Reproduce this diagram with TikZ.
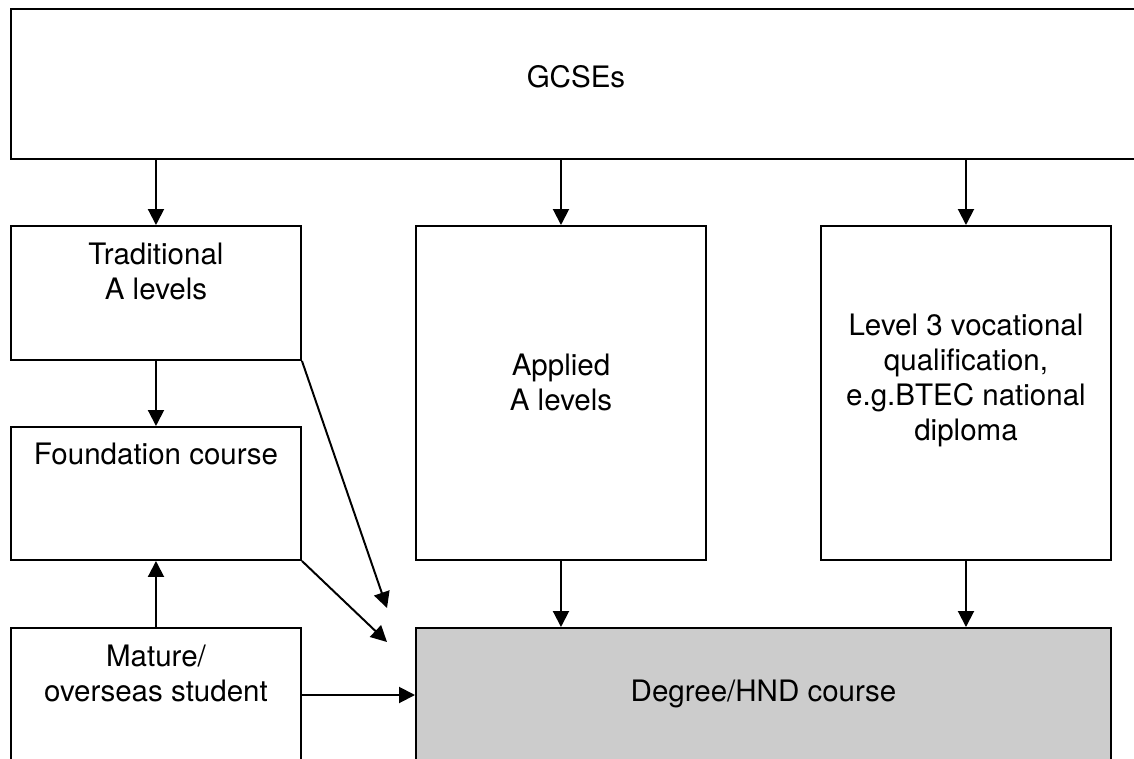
\documentclass[tikz,border=0pt]{standalone}
\usepackage{fontspec}
\setmainfont{TeX Gyre Heros}
\usetikzlibrary{positioning,arrows.meta}
\definecolor{hndgray}{gray}{0.8}
\tikzset{
  stage/.style={draw,line width=1.4pt,anchor=north west,inner sep=0pt},
  caption/.style={align=center,inner sep=0pt,anchor=north,font=\fontsize{21pt}{24.9pt}\selectfont},
}

\begin{document}
\begin{tikzpicture}[>={Triangle[length=4mm,width=4mm]},line width=1.4pt]
      \useasboundingbox (0,0) rectangle (28.35,-18.95);

      \node[stage,minimum width=28.25cm,minimum height=3.75cm] (gcse) at (0.25,-0.2) {};
      \node[stage,minimum width=7.25cm,minimum height=3.35cm] (trad) at (0.25,-5.625) {};
      \node[stage,minimum width=7.25cm,minimum height=3.325cm] (found) at (0.25,-10.65) {};
      \node[stage,minimum width=7.25cm,minimum height=3.35cm] (mature) at (0.25,-15.675) {};
      \node[stage,minimum width=7.25cm,minimum height=8.35cm] (appl) at (10.375,-5.625) {};
      \node[stage,minimum width=7.25cm,minimum height=8.35cm] (voc) at (20.5,-5.625) {};
      \node[stage,fill=hndgray,minimum width=17.375cm,minimum height=3.35cm] (deg) at (10.375,-15.675) {};

      \node[caption,below=1.4cm of gcse.north] (gcselbl) {GCSEs};
      \node[caption,below=4.25mm of trad.north] (tradlbl) {Traditional\\A levels};
      \node[caption,below=4mm of found.north] (foundlbl) {Foundation course};
      \node[caption,below=4.25mm of mature.north] (maturelbl) {Mature/\\overseas student};
      \node[caption,below=3.21cm of appl.north] (appllbl) {Applied\\A levels};
      \node[caption,below=2.21cm of voc.north] (voclbl) {Level 3 vocational\\qualification,\hspace*{0.6em}\\e.g.BTEC national\\diploma};
      \node[caption,below=1.3cm of deg.north] (deglbl) {Degree/HND course};

      \coordinate (tradend) at (9.675,-15.2);
      \coordinate (foundend) at (9.675,-16.05);

      \draw[->] (trad.north |- gcse.south) -- (trad.north);
      \draw[->] (appl.north |- gcse.south) -- (appl.north);
      \draw[->] (voc.north |- gcse.south) -- (voc.north);
      \draw[->] (trad.south) -- (found.north);
      \draw[->] (mature.north) -- (found.south);
      \draw[->] (trad.south east) -- (tradend);
      \draw[->] (found.south east) -- (foundend);
      \draw[->] (mature.east) -- (deg.west);
      \draw[->] (appl.south) -- (appl.south |- deg.north);
      \draw[->] (voc.south) -- (voc.south |- deg.north);
    \end{tikzpicture}
\end{document}
